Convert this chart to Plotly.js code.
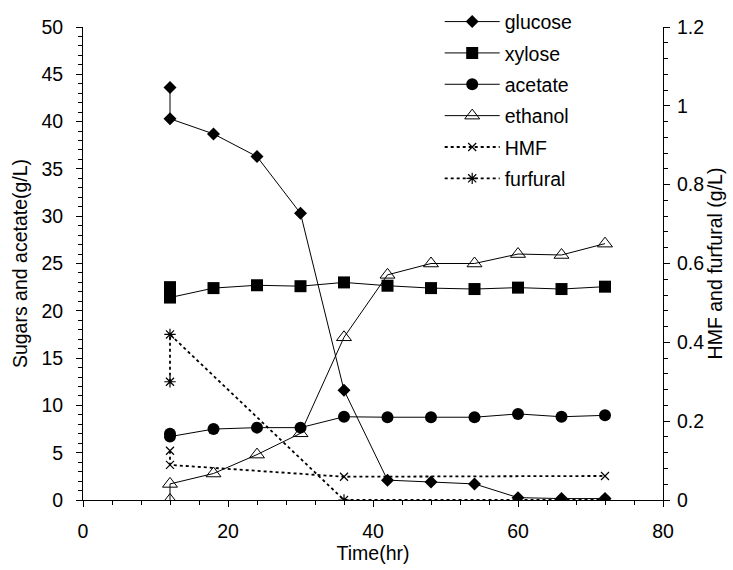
<!DOCTYPE html>
<html>
<head>
<meta charset="utf-8">
<script src="https://cdn.plot.ly/plotly-3.0.1.min.js"></script>
<style>html,body{margin:0;padding:0;background:#fff;}#chart{width:733px;height:570px;}</style>
</head>
<body>
<div id="chart"></div>
<script>
const timeMain = [12, 12, 18, 24, 30, 36, 42, 48, 54, 60, 66, 72];
const glucose = [43.6, 40.3, 38.7, 36.3, 30.3, 11.6, 2.1, 1.9, 1.7, 0.25, 0.15, 0.15];
const xylose  = [22.5, 21.4, 22.4, 22.7, 22.6, 23.0, 22.65, 22.4, 22.3, 22.45, 22.3, 22.55];
const acetate = [7.0, 6.7, 7.5, 7.65, 7.65, 8.8, 8.75, 8.75, 8.75, 9.1, 8.8, 8.95];
const ethanol = [0, 1.7, 2.8, 4.8, 7.05, 17.2, 23.8, 25.0, 25.0, 26.0, 25.9, 27.1];
const timeInhib = [12, 12, 36, 72];
const hmf = [0.125, 0.089, 0.059, 0.061];
const furfural = [0.30, 0.42, 0, 0];

const font = {family: 'Liberation Sans, Arial, sans-serif', size: 19.5, color: '#000'};
const solid = {color: '#000', width: 1};
const dotted = {color: '#000', width: 1.8, dash: 'dot'};

const traces = [
  {x: timeMain, y: glucose, name: 'glucose', mode: 'lines+markers', line: solid,
   marker: {symbol: 'diamond', size: 10, color: '#000'}, legendgroup: 'a'},
  {x: timeMain, y: xylose, name: 'xylose', mode: 'lines+markers', line: solid,
   marker: {symbol: 'square', size: 12, color: '#000'}, legendgroup: 'b'},
  {x: timeMain, y: acetate, name: 'acetate', mode: 'lines+markers', line: solid,
   marker: {symbol: 'circle', size: 12, color: '#000'}, legendgroup: 'c'},
  {x: timeMain, y: ethanol, name: 'ethanol', mode: 'lines+markers', line: solid,
   marker: {symbol: 'triangle-up-open', size: 13, color: '#000', line: {width: 1, color: '#000'}}, legendgroup: 'd'},
  {x: timeInhib, y: hmf, name: 'HMF', mode: 'lines+markers', line: dotted, yaxis: 'y2',
   marker: {symbol: 'x-thin-open', size: 8, color: '#000', line: {width: 1.2, color: '#000'}}, legendgroup: 'e'},
  {x: timeInhib, y: furfural, name: 'furfural', mode: 'lines+markers', line: dotted, yaxis: 'y2',
   marker: {symbol: 'asterisk-open', size: 9.5, color: '#000', line: {width: 1.2, color: '#000'}}, legendgroup: 'f'}
];

const layout = {
  width: 733, height: 570,
  margin: {l: 83, r: 70, t: 27, b: 70, autoexpand: false},
  paper_bgcolor: '#fff', plot_bgcolor: '#fff',
  font: font,
  showlegend: true,
  legend: {x: 0.615, y: 1.052, xanchor: 'left', yanchor: 'top', bgcolor: 'rgba(0,0,0,0)',
           font: font, itemwidth: 55, tracegroupgap: 3, traceorder: 'grouped'},
  xaxis: {range: [0, 80], dtick: 20, tick0: 0, showgrid: false, zeroline: false,
          showline: true, linecolor: '#000', linewidth: 1, ticks: 'outside', ticklen: 6, tickcolor: '#000',
          ticklabelstandoff: 8,
          minor: {dtick: 4, ticks: 'outside', ticklen: 4, tickcolor: '#000', showgrid: false},
          title: {text: 'Time(hr)', font: font, standoff: 2}, tickfont: font},
  yaxis: {range: [0, 50], dtick: 5, tick0: 0, showgrid: false, zeroline: false,
          showline: true, linecolor: '#000', linewidth: 1, ticks: 'outside', ticklen: 6, tickcolor: '#000',
          ticklabelstandoff: 9,
          minor: {dtick: 1, ticks: 'outside', ticklen: 4, tickcolor: '#000', showgrid: false},
          title: {text: 'Sugars and acetate(g/L)', font: font, standoff: 8}, tickfont: font},
  yaxis2: {range: [0, 1.2], dtick: 0.2, tick0: 0, overlaying: 'y', side: 'right',
           showgrid: false, zeroline: false, showline: true, linecolor: '#000', linewidth: 1,
           ticks: 'outside', ticklen: 6, tickcolor: '#000', ticklabelstandoff: 3,
           minor: {dtick: 0.04, ticks: 'outside', ticklen: 4, tickcolor: '#000', showgrid: false},
           title: {text: 'HMF and furfural (g/L)', font: font, standoff: 0}, tickfont: font}
};

Plotly.newPlot('chart', traces, layout, {displayModeBar: false, staticPlot: true});
</script>
</body>
</html>
